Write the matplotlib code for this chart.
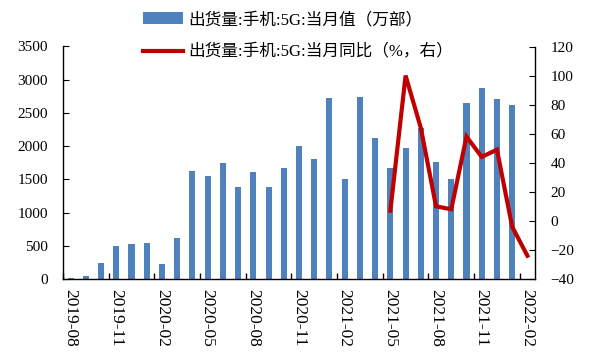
import numpy as np
import matplotlib.pyplot as plt
from matplotlib.ticker import MultipleLocator, FixedLocator

plt.rcParams['font.family'] = ['Liberation Serif', 'Noto Sans CJK SC']
plt.rcParams['font.size'] = 11

months = [
    "2019-08", "2019-09", "2019-10", "2019-11", "2019-12",
    "2020-01", "2020-02", "2020-03", "2020-04", "2020-05", "2020-06",
    "2020-07", "2020-08", "2020-09", "2020-10", "2020-11", "2020-12",
    "2021-01", "2021-02", "2021-03", "2021-04", "2021-05", "2021-06",
    "2021-07", "2021-08", "2021-09", "2021-10", "2021-11", "2021-12",
    "2022-01", "2022-02",
]

# 5G phone shipments, 10k units (last month has no bar)
shipments = [
    20, 50, 240, 500, 525, 540, 225, 615, 1620, 1545, 1740, 1380,
    1605, 1380, 1665, 2000, 1800, 2720, 1500, 2740, 2130, 1670,
    1970, 2280, 1760, 1500, 2650, 2880, 2710, 2620, np.nan,
]

# year-on-year growth, %
yoy = [
    np.nan, np.nan, np.nan, np.nan, np.nan, np.nan, np.nan, np.nan,
    np.nan, np.nan, np.nan, np.nan, np.nan, np.nan, np.nan, np.nan,
    np.nan, np.nan, np.nan, np.nan, np.nan,
    7, 100, 64, 10, 8, 58, 44, 49, -4, -24,
]

label_bar = "出货量:手机:5G:当月值（万部）"
label_line = "出货量:手机:5G:当月同比（%，右）"

x = np.arange(len(months))

fig = plt.figure(figsize=(6.15, 3.61), dpi=100)
ax = fig.add_axes([63 / 615, 1 - 279 / 361, (535 - 63) / 615, (279 - 46.5) / 361])
ax2 = ax.twinx()

bars = ax.bar(x, shipments, width=0.4, color="#4F81BD", label=label_bar, zorder=2)
line, = ax2.plot(x, yoy, color="#C00000", linewidth=3, label=label_line,
                 solid_joinstyle="miter", zorder=3)

ax.set_xlim(-0.5, len(months) - 0.5)
ax.set_ylim(0, 3500)
ax.yaxis.set_major_locator(MultipleLocator(500))
ax2.set_ylim(-40, 120)
ax2.yaxis.set_major_locator(MultipleLocator(20))

ax.set_xticks(x[::3])
ax.set_xticklabels(months[::3], rotation=270, fontsize=12.5)
ax.xaxis.set_minor_locator(FixedLocator(np.arange(-0.5, len(months) - 0.5, 3)))
ax.tick_params(axis="x", which="major", length=0, pad=7)
ax.tick_params(axis="x", which="minor", length=4, direction="in", width=1)
ax.tick_params(axis="y", length=4, direction="in", pad=11)
ax2.tick_params(axis="y", length=4, direction="in", pad=11)

for a in (ax, ax2):
    a.spines["top"].set_visible(False)
    for s in ("left", "right", "bottom"):
        a.spines[s].set_linewidth(1)
ax2.spines["left"].set_visible(False)
ax2.spines["bottom"].set_visible(False)
ax.spines["right"].set_visible(False)

fig.legend(handles=[bars, line], loc="upper left",
           bbox_to_anchor=(143 / 615, 1 - 12 / 361), frameon=False,
           handlelength=2.4, handletextpad=0.3, labelspacing=1.0,
           borderpad=0, borderaxespad=0, prop={"size": 12})

fig.savefig("out.png", dpi=100)
